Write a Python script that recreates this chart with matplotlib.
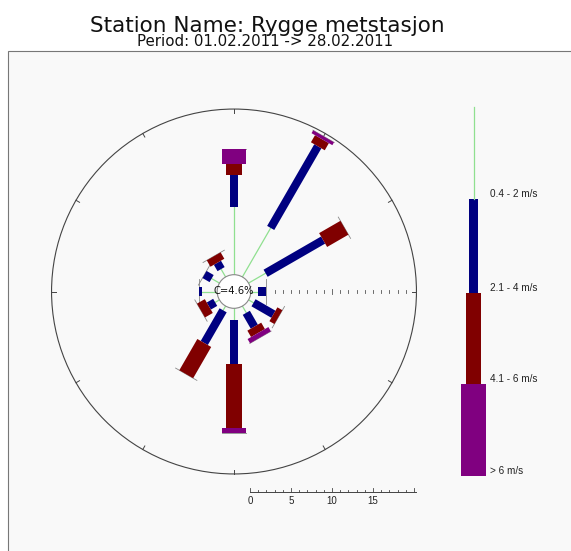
import numpy as np
import matplotlib
matplotlib.use("Agg")
import matplotlib.pyplot as plt
from matplotlib.patches import Polygon, Circle, Rectangle

# ---- data ----
directions = [0, 30, 60, 90, 120, 150, 180, 210, 240, 270, 300, 330]
speed_classes = ["0.4 - 2 m/s", "2.1 - 4 m/s", "4.1 - 6 m/s", "> 6 m/s"]
class_colors = ["#90e090", "#000080", "#800000", "#800080"]
freq_04_2 = [8.3, 7.0, 2.5, 0.95, 0.8, 1.05, 1.55, 0.7, 0.7, 1.9, 1.2, 1.2]
freq_21_4 = [4.0, 11.5, 8.1, 1.05, 2.8, 1.95, 5.4, 4.6, 0.9, 0.4, 1.0, 0.9]
freq_41_6 = [1.3, 1.0, 3.0, 0.0, 0.7, 0.9, 7.7, 4.4, 1.1, 0.0, 0.0, 0.9]
freq_gt6 = [1.8, 0.4, 0.0, 0.0, 0.0, 0.6, 0.6, 0.0, 0.0, 0.0, 0.0, 0.0]
calm_pct = 4.6
scale_ticks = [0, 5, 10, 15]
title = "Station Name: Rygge metstasjon"
subtitle = "Period: 01.02.2011 -> 28.02.2011"

# ---- figure ----
W, H, DPI = 571, 551, 100
PX = 8.2          # pixels per percent
CX, CY = 234, 291.5
fig = plt.figure(figsize=(W / DPI, H / DPI), dpi=DPI)
fig.patch.set_facecolor("white")
ax = fig.add_axes([0, 0, 1, 1])
ax.set_xlim(-CX / PX, (W - CX) / PX)
ax.set_ylim(-(H - CY) / PX, CY / PX)
ax.axis("off")

calm_r = 1.95
outer_r = calm_r + 20.3

# frame
ax.add_patch(Rectangle((-(CX - 8) / PX, -(H - CY) / PX - 1), (W) / PX + 5, (CY - 51) / PX + (H - CY) / PX + 1,
                       facecolor="#f9f9f9", edgecolor="#777777", lw=0.8, zorder=0))

# outer circle and ticks
ax.add_patch(Circle((0, 0), outer_r, fill=False, edgecolor="#444444", lw=0.8, zorder=1))
for a in range(0, 360, 30):
    t = np.deg2rad(a)
    s, c = np.sin(t), np.cos(t)
    ax.plot([outer_r * s, (outer_r - 0.5) * s], [outer_r * c, (outer_r - 0.5) * c],
            color="#444444", lw=0.7, zorder=1)

# east dotted scale
for v in range(3, 20):
    h = 0.35 if v == 10 else 0.2
    ax.plot([calm_r + v, calm_r + v], [-h, h], color="#555555", lw=0.6, zorder=1)

series = [freq_04_2, freq_21_4, freq_41_6, freq_gt6]
widths = [None, 1.0, 1.95, 2.93]

def rect(theta, r0, r1, w):
    s, c = np.sin(theta), np.cos(theta)
    px, py = c, -s  # perpendicular
    hw = w / 2
    return [(r0 * s + hw * px, r0 * c + hw * py), (r1 * s + hw * px, r1 * c + hw * py),
            (r1 * s - hw * px, r1 * c - hw * py), (r0 * s - hw * px, r0 * c - hw * py)]

for i, d in enumerate(directions):
    t = np.deg2rad(d)
    s, c = np.sin(t), np.cos(t)
    r = calm_r
    total = calm_r + sum(ser[i] for ser in series)
    # cap line
    ax.plot([total * s + 1.5 * c, total * s - 1.5 * c], [total * c - 1.5 * s, total * c + 1.5 * s],
            color="#888888", lw=0.6, zorder=2)
    for k, ser in enumerate(series):
        v = ser[i]
        if v <= 0:
            continue
        if k == 0:
            ax.plot([r * s, (r + v) * s], [r * c, (r + v) * c], color=class_colors[0], lw=0.9, zorder=3)
        else:
            ax.add_patch(Polygon(rect(t, r, r + v, widths[k]), closed=True,
                                 facecolor=class_colors[k], edgecolor="none", zorder=3))
        r += v

# calm circle
ax.add_patch(Circle((0, 0), calm_r + 0.1, facecolor="white", edgecolor="#888888", lw=0.8, zorder=4))
ax.text(0, 0, f"C={calm_pct}%", ha="center", va="center", fontsize=7.2, color="#111111",
        family="DejaVu Sans", zorder=5)

# bottom scale bar
yb = -(492 - CY) / PX
ax.plot([calm_r, calm_r + 20.3], [yb, yb], color="#444444", lw=0.7)
for v in range(0, 21):
    h = 0.45 if v % 5 == 0 else 0.3
    ax.plot([calm_r + v, calm_r + v], [yb, yb + h], color="#444444", lw=0.6)
for v in scale_ticks:
    ax.text(calm_r + v, yb - 0.45, str(v), ha="center", va="top", fontsize=7,
            color="#222222", family="Liberation Sans")

# legend column
lx = (473.5 - CX) / PX
seg_px = [(106.7, 199.3), (199.3, 292.7), (292.7, 384.0), (384.0, 476.0)]
for k, (y0, y1) in enumerate(seg_px):
    Y0, Y1 = (CY - y0) / PX, (CY - y1) / PX
    if k == 0:
        ax.plot([lx, lx], [Y0, Y1], color=class_colors[0], lw=0.9)
    else:
        w = widths[k]
        ax.add_patch(Rectangle((lx - w / 2, Y1), w, Y0 - Y1, facecolor=class_colors[k], edgecolor="none"))
    ax.text((490 - CX) / PX, (CY - (y1 - 5)) / PX, speed_classes[k], ha="left", va="center",
            fontsize=7.2, color="#222222", family="Liberation Sans")

# titles
fig.text(267 / W, 1 - 25.5 / H, title, ha="center", va="center", fontsize=15.5, color="#111111",
         family="DejaVu Sans")
fig.text(265 / W, 1 - 41.5 / H, subtitle, ha="center", va="center", fontsize=10.8, color="#111111",
         family="DejaVu Sans")

fig.savefig("out.png", dpi=DPI)
